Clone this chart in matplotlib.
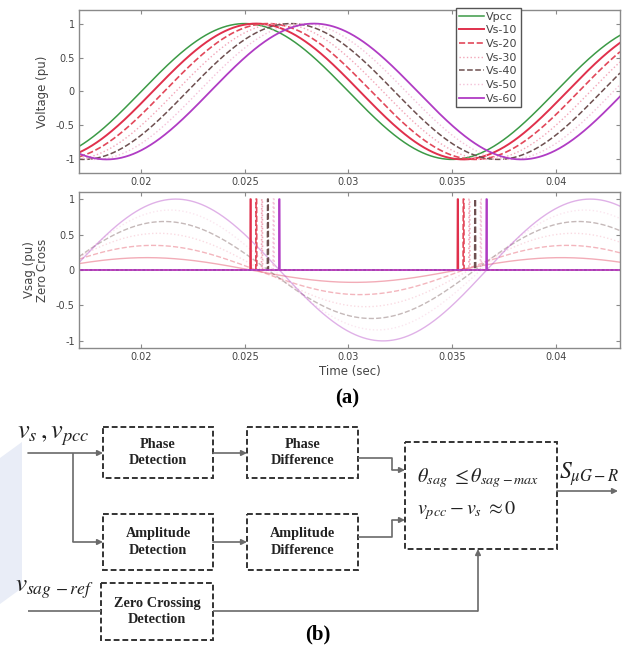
import numpy as np
import matplotlib.pyplot as plt
from matplotlib.patches import Rectangle, Polygon

# signal parameters
freq = 50                     # Hz
t_peak_pcc = 0.025            # time of Vpcc positive peak (s)
t_start, t_end = 0.017, 0.0431
phase_shift = [10, 20, 30, 40, 50, 60]   # degrees of Vs lag
names = ['Vpcc', 'Vs-10', 'Vs-20', 'Vs-30', 'Vs-40', 'Vs-50', 'Vs-60']
colors = ['#3c9a46', '#e0304c', '#e2485a', '#f2a6b8', '#6e5050', '#f4c2d8', '#b03cc4']
styles = ['-', '-', '--', ':', '--', ':', '-']
widths = [1.1, 1.4, 1.2, 1.0, 1.1, 1.0, 1.3]
pulse_half_width = 0.00002    # s

t = np.linspace(t_start, t_end, 5000)
w = 2 * np.pi * freq
v_pcc = np.cos(w * (t - t_peak_pcc))
v_s = [np.cos(w * (t - t_peak_pcc) - np.radians(p)) for p in phase_shift]
v_sag = [v_pcc - v for v in v_s]


def zero_cross(sig):
    s = np.sign(sig)
    idx = np.where(s[1:] != s[:-1])[0]
    out = np.zeros_like(t)
    for i in idx:
        out[np.abs(t - t[i]) <= pulse_half_width] = 1
    return out


W, H = 631, 651
fig = plt.figure(figsize=(W / 100, H / 100), dpi=100)
plt.rcParams['mathtext.fontset'] = 'stix'
txt = '#444444'
frame = '#8a8a8a'


def style_axes(ax):
    ax.tick_params(direction='in', length=3, labelsize=7, colors=frame,
                   labelcolor=txt, top=True, right=True, pad=3)
    for sp in ax.spines.values():
        sp.set_color(frame)
        sp.set_linewidth(1.0)
    ax.set_xlim(t_start, t_end)
    ax.set_xticks([0.02, 0.025, 0.03, 0.035, 0.04])
    ax.set_xticklabels(['0.02', '0.025', '0.03', '0.035', '0.04'])


# ---- top: voltages
ax1 = fig.add_axes([79 / W, 1 - 173 / H, 541 / W, 163 / H])
ax1.plot(t, v_pcc, color=colors[0], ls=styles[0], lw=widths[0], label=names[0])
for k, v in enumerate(v_s):
    ax1.plot(t, v, color=colors[k + 1], ls=styles[k + 1], lw=widths[k + 1], label=names[k + 1])
ax1.set_ylim(-1.2, 1.2)
ax1.set_yticks([-1, -0.5, 0, 0.5, 1])
ax1.set_yticklabels(['-1', '-0.5', '0', '0.5', '1'])
ax1.set_ylabel('Voltage (pu)', fontsize=8.5, color=txt, labelpad=5)
style_axes(ax1)
leg = ax1.legend(loc='upper left', bbox_to_anchor=(0.697, 1.01), fontsize=8,
                 handlelength=2.2, handletextpad=0.2, labelspacing=0.33,
                 borderpad=0.3, borderaxespad=0, fancybox=False, framealpha=1,
                 edgecolor='#555555', labelcolor=txt)

# ---- bottom: sag voltage and zero-cross signal
ax2 = fig.add_axes([79 / W, 1 - 348 / H, 541 / W, 156 / H])
for k, v in enumerate(v_sag):
    ax2.plot(t, v, color=colors[k + 1], ls=styles[k + 1], lw=1.0, alpha=0.4)
for k, v in enumerate(v_sag):
    ax2.plot(t, zero_cross(v), color=colors[k + 1], ls=styles[k + 1] if k not in (0, 5) else '-',
             lw=1.2)
ax2.set_ylim(-1.1, 1.1)
ax2.set_yticks([-1, -0.5, 0, 0.5, 1])
ax2.set_yticklabels(['-1', '-0.5', '0', '0.5', '1'])
ax2.set_ylabel('Vsag (pu)\nZero Cross', fontsize=8.5, color=txt, labelpad=5, linespacing=1.0)
ax2.set_xlabel('Time (sec)', fontsize=8.5, color=txt, labelpad=2)
style_axes(ax2)

fig.text(347 / W, 1 - 398 / H, '(a)', ha='center', va='center', fontsize=15,
         family='Liberation Serif', weight='bold')

# ---- block diagram (pixel coordinates)
ax3 = fig.add_axes([0, 0, 1, 1], zorder=-1)
ax3.set_xlim(0, W)
ax3.set_ylim(H, 0)
ax3.axis('off')

lc = '#6a6a6a'
bc = '#333333'
serif = 'Liberation Serif'

# faint scan artefact on the left margin
ax3.add_patch(Polygon([(0, 458), (22, 442), (22, 588), (0, 604)], closed=True,
                      fc='#e9edf7', ec='none'))

boxes = [
    (103, 427, 110, 51, 'Phase\nDetection'),
    (247, 427, 111, 51, 'Phase\nDifference'),
    (103, 514, 110, 56, 'Amplitude\nDetection'),
    (247, 514, 111, 56, 'Amplitude\nDifference'),
    (101, 583, 112, 57, 'Zero Crossing\nDetection'),
]
for x, y, bw, bh, label in boxes:
    ax3.add_patch(Rectangle((x, y), bw, bh, fill=False, ec=bc, lw=1.4, ls=(0, (3, 1.5))))
    ax3.text(x + bw / 2, y + bh / 2, label, ha='center', va='center', fontsize=10.3,
             family=serif, weight='bold', color='#222222', linespacing=1.3)
ax3.add_patch(Rectangle((405, 442), 152, 107, fill=False, ec=bc, lw=1.4, ls=(0, (3, 1.5))))


def arrow(x0, y0, x1, y1):
    ax3.annotate('', xy=(x1, y1), xytext=(x0, y0),
                 arrowprops=dict(arrowstyle='-|>', color=lc, lw=1.2, mutation_scale=8,
                                 shrinkA=0, shrinkB=0))


def path(xs, ys):
    ax3.plot(xs, ys, color=lc, lw=1.2, solid_capstyle='butt')


arrow(28, 453, 103, 453)
path([73, 73], [453, 542])
arrow(73, 542, 103, 542)
arrow(213, 453, 247, 453)
arrow(213, 542, 247, 542)
path([358, 392, 392], [458, 458, 470])
arrow(392, 470, 405, 470)
path([358, 392, 392], [537, 537, 520])
arrow(392, 520, 405, 520)
path([28, 101], [611, 611])
path([213, 478], [611, 611])
arrow(478, 611, 478, 549)
arrow(557, 491, 618, 491)

ax3.text(17, 435, r'$v_s\,,v_{pcc}$', fontsize=19, ha='left', va='center', color='#222222')
ax3.text(15, 589, r'$v_{sag\,-ref}$', fontsize=18, ha='left', va='center', color='#222222')
ax3.text(417, 478, r'$\theta_{sag}\;\leq\theta_{sag-max}$', fontsize=14.5, ha='left',
         va='center', color='#222222')
ax3.text(417, 511, r'$v_{pcc}-v_s\;\approx 0$', fontsize=14.5, ha='left', va='center',
         color='#222222')
ax3.text(559, 474, r'$S_{\mu G-R}$', fontsize=17, ha='left', va='center', color='#222222')
ax3.text(318, 634, '(b)', ha='center', va='center', fontsize=15, family=serif, weight='bold')

fig.savefig('out.png', dpi=100)
